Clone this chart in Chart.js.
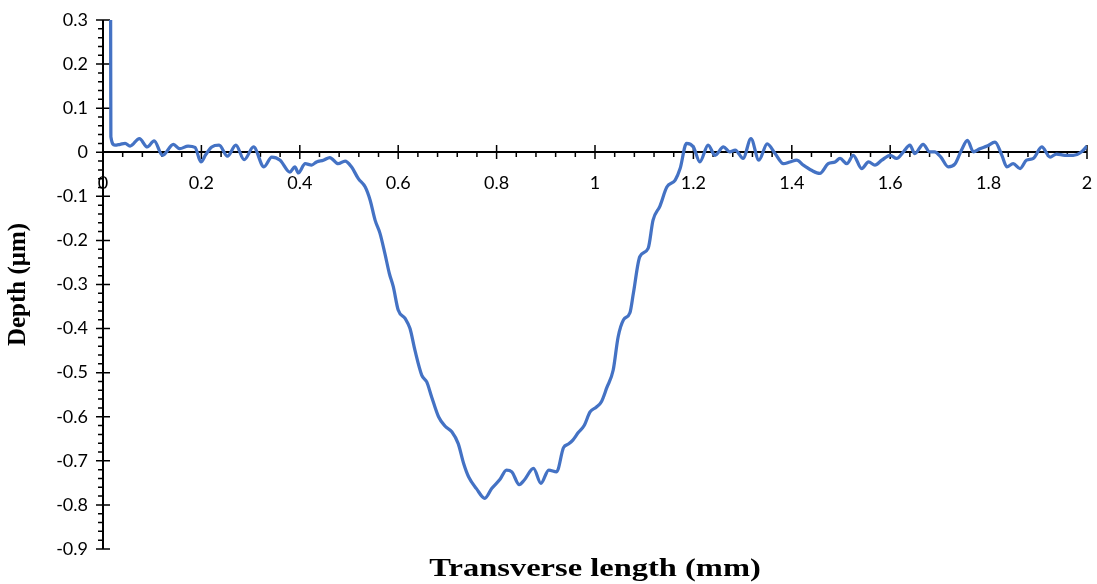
<!DOCTYPE html>
<html>
<head>
<meta charset="utf-8">
<script src="https://cdn.jsdelivr.net/npm/chart.js@4/dist/chart.umd.min.js"></script>
<style>
  html, body { margin: 0; padding: 0; background: #ffffff; }
  #wrap { width: 1097px; height: 584px; position: relative; }
</style>
</head>
<body>
<div id="wrap"><canvas id="profile"></canvas></div>
<script>
// Transverse position (mm) of each profile sample
const transverseMm = [
  0.0155, 0.016, 0.024, 0.035, 0.045, 0.055, 0.074, 0.090, 0.104, 0.121,
  0.143, 0.156, 0.173, 0.187, 0.199, 0.209, 0.221, 0.236, 0.253, 0.270,
  0.287, 0.306, 0.327, 0.343, 0.360, 0.380, 0.390, 0.397, 0.411, 0.424,
  0.434, 0.448, 0.461, 0.478, 0.492, 0.505, 0.519, 0.533, 0.543, 0.553,
  0.563, 0.573, 0.582, 0.590, 0.600, 0.614, 0.624, 0.634, 0.648, 0.658,
  0.668, 0.682, 0.695, 0.709, 0.722, 0.733, 0.743, 0.759, 0.776, 0.790,
  0.807, 0.820, 0.831, 0.846, 0.856, 0.875, 0.890, 0.906, 0.922, 0.936,
  0.946, 0.955, 0.966, 0.978, 0.990, 1.003, 1.013, 1.024, 1.037, 1.047,
  1.058, 1.071, 1.078, 1.091, 1.108, 1.118, 1.132, 1.146, 1.163, 1.173,
  1.186, 1.200, 1.213, 1.230, 1.244, 1.261, 1.274, 1.285, 1.301, 1.317,
  1.333, 1.350, 1.366, 1.383, 1.396, 1.410, 1.423, 1.440, 1.457, 1.474,
  1.488, 1.498, 1.512, 1.525, 1.542, 1.556, 1.569, 1.583, 1.600, 1.613,
  1.627, 1.640, 1.650, 1.667, 1.680, 1.690, 1.703, 1.718, 1.732, 1.745,
  1.757, 1.769, 1.782, 1.797, 1.813, 1.827, 1.837, 1.850, 1.864, 1.877,
  1.891, 1.908, 1.925, 1.938, 1.955, 1.972, 1.989, 2.000
];

// Measured depth (µm) at each position
const depthUm = [
  0.300, 0.035, 0.016, 0.018, 0.020, 0.014, 0.031, 0.012, 0.026, -0.007,
  0.018, 0.008, 0.014, 0.011, -0.022, -0.005, 0.012, 0.016, -0.009, 0.016,
  -0.017, 0.012, -0.033, -0.011, -0.018, -0.045, -0.033, -0.047, -0.026, -0.029,
  -0.022, -0.018, -0.012, -0.026, -0.020, -0.033, -0.060, -0.079, -0.109, -0.154,
  -0.184, -0.230, -0.275, -0.305, -0.358, -0.377, -0.400, -0.449, -0.506, -0.521,
  -0.555, -0.600, -0.621, -0.634, -0.661, -0.706, -0.736, -0.763, -0.785, -0.763,
  -0.742, -0.721, -0.725, -0.754, -0.744, -0.717, -0.751, -0.721, -0.725, -0.670,
  -0.662, -0.653, -0.636, -0.620, -0.589, -0.578, -0.566, -0.534, -0.494, -0.419,
  -0.380, -0.364, -0.320, -0.237, -0.218, -0.154, -0.122, -0.079, -0.063, -0.037,
  0.020, 0.012, -0.022, 0.016, -0.007, 0.012, 0.001, 0.005, -0.014, 0.031,
  -0.018, 0.019, -0.003, -0.026, -0.022, -0.018, -0.029, -0.041, -0.048, -0.026,
  -0.022, -0.014, -0.026, -0.007, -0.037, -0.022, -0.029, -0.018, -0.007, -0.014,
  0.001, 0.016, -0.003, 0.018, 0.001, 0.001, -0.011, -0.033, -0.026, 0.005,
  0.027, 0.001, 0.008, 0.014, 0.023, -0.007, -0.033, -0.026, -0.037, -0.018,
  -0.014, 0.012, -0.011, -0.004, -0.007, -0.007, 0.001, 0.014
];

// Axis tick values
const xTickValues = [0, 0.2, 0.4, 0.6, 0.8, 1, 1.2, 1.4, 1.6, 1.8, 2];
const yTickValues = [0.3, 0.2, 0.1, 0, -0.1, -0.2, -0.3, -0.4, -0.5, -0.6, -0.7, -0.8, -0.9];
const xMinorPerMajor = 5;
const yMinorPerMajor = 5;

const xTitle = 'Transverse length (mm)';
const yTitle = 'Depth (μm)';

const tickFont = { family: 'Lato, "Liberation Sans", sans-serif', size: 18 };
const titleFamily = '"Liberation Serif", "Times New Roman", serif';
const yTitleFont = { family: titleFamily, size: 25, weight: 'bold' };

// Axis lines with major ticks crossing and minor ticks on the outer side
const axesPlugin = {
  id: 'excelAxes',
  beforeDatasetsDraw(chart) {
    const { ctx, chartArea, scales } = chart;
    const xs = scales.x, ys = scales.y;
    const y0 = Math.round(ys.getPixelForValue(0));
    const x0 = Math.round(xs.getPixelForValue(0));
    ctx.save();
    ctx.strokeStyle = '#000';
    ctx.lineWidth = 2;
    ctx.beginPath();
    ctx.moveTo(chartArea.left, y0);
    ctx.lineTo(chartArea.right, y0);
    ctx.moveTo(x0, chartArea.top);
    ctx.lineTo(x0, chartArea.bottom);
    ctx.stroke();

    ctx.lineWidth = 1.5;
    ctx.beginPath();
    for (let i = 0; i < xTickValues.length; i++) {
      const px = xs.getPixelForValue(xTickValues[i]);
      ctx.moveTo(px, y0 - 7);
      ctx.lineTo(px, y0 + 7);
      if (i < xTickValues.length - 1) {
        const step = (xTickValues[i + 1] - xTickValues[i]) / xMinorPerMajor;
        for (let k = 1; k < xMinorPerMajor; k++) {
          const mx = xs.getPixelForValue(xTickValues[i] + k * step);
          ctx.moveTo(mx, y0);
          ctx.lineTo(mx, y0 + 5);
        }
      }
    }
    for (let i = 0; i < yTickValues.length; i++) {
      const py = ys.getPixelForValue(yTickValues[i]);
      ctx.moveTo(x0 - 7, py);
      ctx.lineTo(x0 + 7, py);
      if (i < yTickValues.length - 1) {
        const step = (yTickValues[i + 1] - yTickValues[i]) / yMinorPerMajor;
        for (let k = 1; k < yMinorPerMajor; k++) {
          const my = ys.getPixelForValue(yTickValues[i] + k * step);
          ctx.moveTo(x0 - 5, my);
          ctx.lineTo(x0, my);
        }
      }
    }
    ctx.stroke();

    // x-axis title under the plot, slightly widened
    ctx.fillStyle = '#000';
    ctx.font = `bold 25px ${titleFamily}`;
    ctx.textAlign = 'center';
    ctx.textBaseline = 'middle';
    ctx.translate((chartArea.left + chartArea.right) / 2, 570);
    ctx.scale(1.3, 1);
    ctx.fillText(xTitle, 0, 0);
    ctx.restore();
  }
};

const fmt = v => String(Math.round(v * 10) / 10);

new Chart(document.getElementById('profile'), {
  type: 'line',
  data: {
    datasets: [{
      data: transverseMm.map((x, i) => ({ x: x, y: depthUm[i] })),
      borderColor: '#4472C4',
      borderWidth: 3.25,
      pointRadius: 0,
      fill: false,
      cubicInterpolationMode: 'monotone'
    }]
  },
  plugins: [axesPlugin],
  options: {
    responsive: true,
    maintainAspectRatio: false,
    animation: false,
    events: [],
    layout: { padding: { top: 20, right: 10, bottom: 35, left: 0 } },
    plugins: { legend: { display: false }, tooltip: { enabled: false } },
    scales: {
      x: {
        type: 'linear',
        position: { y: 0 },
        min: 0,
        max: 2,
        afterBuildTicks: s => { s.ticks = xTickValues.map(v => ({ value: v })); },
        afterFit: s => { s.paddingLeft = 0; s.paddingRight = 0; s.paddingTop = 0; s.paddingBottom = 0; },
        grid: { display: false, drawTicks: false },
        border: { display: false },
        ticks: { font: tickFont, color: '#000', padding: 20, maxRotation: 0, autoSkip: false, callback: fmt }
      },
      y: {
        type: 'linear',
        position: 'left',
        min: -0.9,
        max: 0.3,
        afterBuildTicks: s => { s.ticks = yTickValues.map(v => ({ value: v })); },
        afterFit: s => { s.width = 103; s.paddingTop = 0; s.paddingBottom = 0; s.paddingLeft = 0; s.paddingRight = 0; },
        grid: { display: false, drawTicks: false },
        border: { display: false },
        ticks: { font: tickFont, color: '#000', padding: 15, autoSkip: false, callback: fmt },
        title: { display: true, text: yTitle, font: yTitleFont, color: '#000', padding: { top: 4, bottom: 0 } }
      }
    }
  }
});
</script>
</body>
</html>
